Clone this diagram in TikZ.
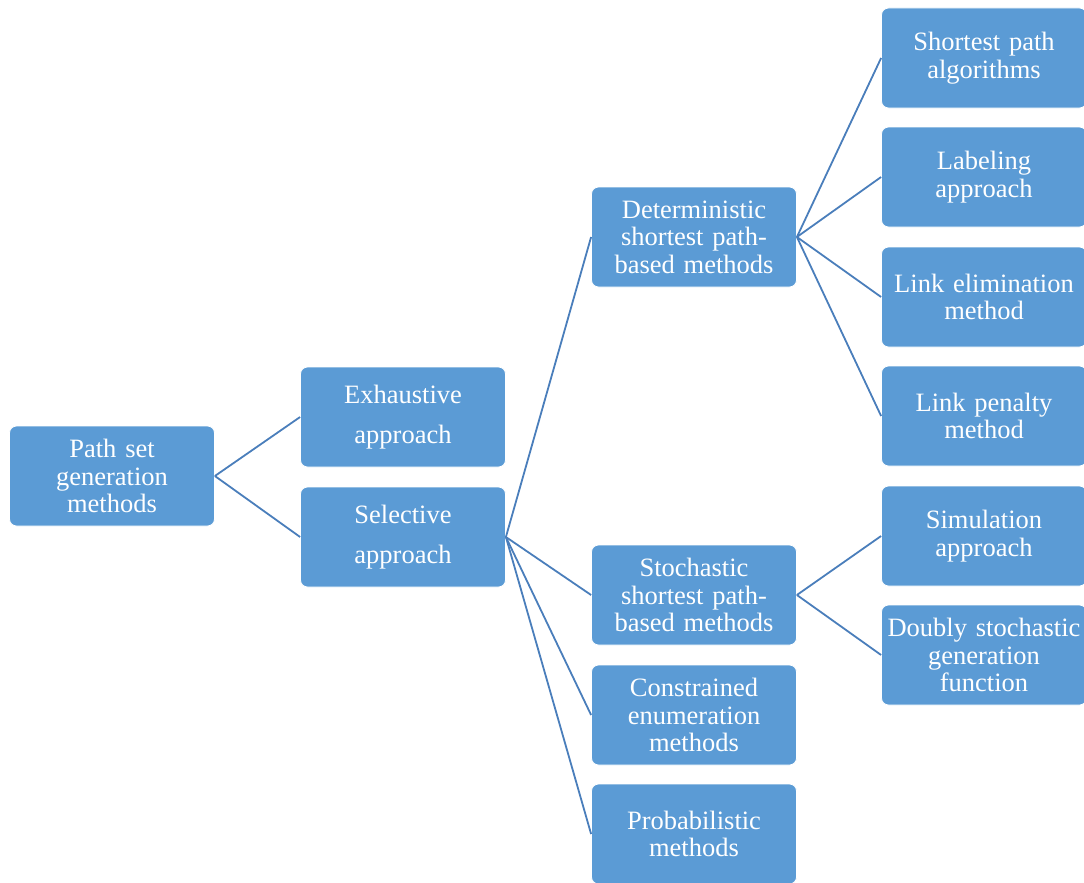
\documentclass[tikz,border=0pt]{standalone}
\usepackage{fontspec}
\setmainfont{Liberation Serif}
\definecolor{boxblue}{HTML}{5B9BD5}
\definecolor{linkblue}{HTML}{4A7EBB}
\begin{document}
\begin{tikzpicture}[x=1pt,y=-1pt,
  box/.style={draw=white, line width=0.8pt, fill=boxblue, rounded corners=7pt,
    minimum width=205pt, minimum height=100pt, text width=202pt, align=center,
    text=white, inner sep=0pt, font=\fontsize{26.5}{27.5}\selectfont},
  widebox/.style={box, font=\fontsize{26.5}{40}\selectfont},
  link/.style={draw=linkblue, line width=1.8pt}]
\useasboundingbox (0,0) rectangle (1084,883);

% root and first level
\node[box] (root) at (112,476) {Path set\\generation\\methods};
\node[widebox] (exh) at (403,417) {Exhaustive\\approach};
\node[widebox] (sel) at (403,537) {Selective\\approach};

% second level
\node[box] (det) at (694,237) {Deterministic\\shortest path-\\based methods};
\node[box] (sto) at (694,595) {Stochastic\\shortest path-\\based methods};
\node[box] (con) at (694,715) {Constrained\\enumeration\\methods};
\node[box] (pro) at (694,834) {Probabilistic\\methods};

% third level
\node[box] (spa) at (984,58) {Shortest path\\algorithms};
\node[box] (lab) at (984,177) {Labeling\\approach};
\node[box] (lel) at (984,297) {Link elimination\\method};
\node[box] (lpe) at (984,416) {Link penalty\\method};
\node[box] (sim) at (984,536) {Simulation\\approach};
\node[box] (dsg) at (984,655) {Doubly stochastic\\generation\\function};

% connectors
\foreach \c in {exh,sel} \draw[link] (root.east) -- (\c.west);
\foreach \c in {det,sto,con,pro} \draw[link] (sel.east) -- (\c.west);
\foreach \c in {spa,lab,lel,lpe} \draw[link] (det.east) -- (\c.west);
\foreach \c in {sim,dsg} \draw[link] (sto.east) -- (\c.west);
\end{tikzpicture}
\end{document}
